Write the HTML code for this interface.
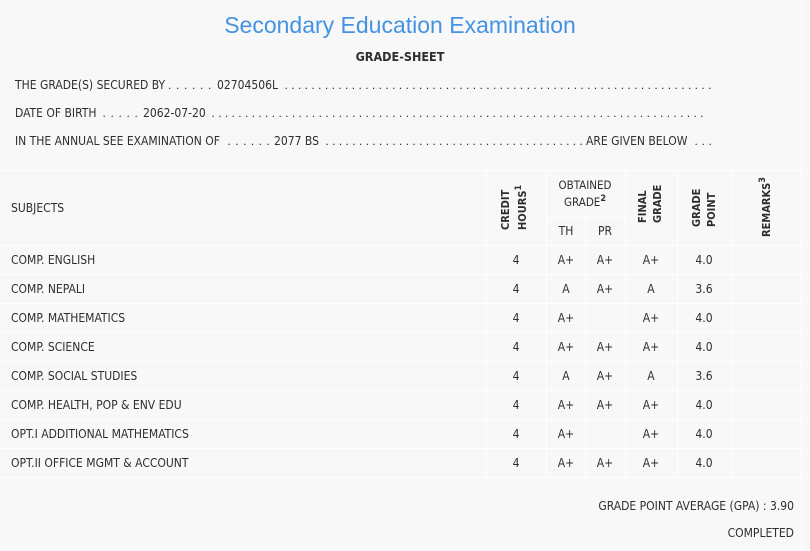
<!DOCTYPE html>
<html>
<head>
<meta charset="utf-8">
<style>
  html,body{margin:0;padding:0;}
  body{width:810px;height:551px;background:#f8f8f8;position:relative;overflow:hidden;
       font-family:"DejaVu Sans Condensed","DejaVu Sans","Liberation Sans",sans-serif;font-stretch:condensed;color:#2e2e2e;}
  .t{position:absolute;white-space:nowrap;font-size:12px;line-height:16px;height:16px;}
  .c{text-align:center;width:60px;}
  .d{position:absolute;white-space:nowrap;font-family:"Liberation Sans",sans-serif;font-size:12px;line-height:16px;height:16px;color:#2e2e2e;}
  .hl{position:absolute;height:1px;background:#fff;}
  .vl{position:absolute;width:1px;background:#fff;}
  .r{position:absolute;white-space:nowrap;font-size:11px;font-weight:bold;line-height:14px;height:14px;width:60px;text-align:left;transform:rotate(-90deg);}
  .r sup,.t sup{font-size:9px;line-height:0;vertical-align:5px;font-weight:bold;}
</style>
</head>
<body>
<!-- table lines -->
<div class="hl" style="left:0;top:170px;width:801px"></div>
<div class="hl" style="left:546px;top:217px;width:79px"></div>
<div class="hl" style="left:0;top:245px;width:801px"></div>
<div class="hl" style="left:0;top:274px;width:801px"></div>
<div class="hl" style="left:0;top:303px;width:801px"></div>
<div class="hl" style="left:0;top:332px;width:801px"></div>
<div class="hl" style="left:0;top:361px;width:801px"></div>
<div class="hl" style="left:0;top:390px;width:801px"></div>
<div class="hl" style="left:0;top:419px;width:801px"></div>
<div class="hl" style="left:0;top:448px;width:801px"></div>
<div class="hl" style="left:0;top:477px;width:801px"></div>
<div class="vl" style="left:486px;top:170px;height:308px"></div>
<div class="vl" style="left:546px;top:170px;height:308px"></div>
<div class="vl" style="left:585px;top:217px;height:261px"></div>
<div class="vl" style="left:625px;top:170px;height:308px"></div>
<div class="vl" style="left:677px;top:170px;height:308px"></div>
<div class="vl" style="left:731px;top:170px;height:308px"></div>
<div class="vl" style="left:801px;top:0;height:551px"></div>

<!-- title -->
<div style="position:absolute;left:0;width:800px;top:11px;text-align:center;font-family:'Liberation Sans',sans-serif;font-size:23px;line-height:28px;color:#4393e2;white-space:nowrap;">Secondary Education Examination</div>
<div class="t" style="left:0;width:800px;top:49px;text-align:center;font-weight:bold;font-size:12.5px;">GRADE-SHEET</div>

<!-- info line 1 -->
<div class="t" style="left:15px;top:77px">THE GRADE(S) SECURED BY</div>
<div class="d" style="left:168px;top:77px;letter-spacing:4.66px">......</div>
<div class="t" style="left:217px;top:77px">02704506L</div>
<div class="d" style="left:284.5px;top:77px;letter-spacing:3.39px">................................................................</div>

<!-- info line 2 -->
<div class="t" style="left:15px;top:105px">DATE OF BIRTH</div>
<div class="d" style="left:102.5px;top:105px;letter-spacing:4.66px">.....</div>
<div class="t" style="left:143px;top:105px">2062-07-20</div>
<div class="d" style="left:211.5px;top:105px;letter-spacing:3.36px">..........................................................................</div>

<!-- info line 3 -->
<div class="t" style="left:15px;top:133px">IN THE ANNUAL SEE EXAMINATION OF</div>
<div class="d" style="left:227.5px;top:133px;letter-spacing:4.46px">......</div>
<div class="t" style="left:274px;top:133px">2077 BS</div>
<div class="d" style="left:325.5px;top:133px;letter-spacing:3.35px">.......................................</div>
<div class="t" style="left:586px;top:133px">ARE GIVEN BELOW</div>
<div class="d" style="left:694.5px;top:133px;letter-spacing:3.66px">...</div>

<!-- header -->
<div class="t" style="left:11px;top:200px">SUBJECTS</div>
<div class="r" style="left:476px;top:193px">CREDIT</div>
<div class="r" style="left:493px;top:193px">HOURS<sup>1</sup></div>
<div class="t c" style="left:555px;top:177px;font-size:11.5px">OBTAINED</div>
<div class="t c" style="left:555px;top:194px;font-size:11.5px">GRADE<sup>2</sup></div>
<div class="t c" style="left:536px;top:223px">TH</div>
<div class="t c" style="left:575px;top:223px">PR</div>
<div class="r" style="left:613px;top:186px">FINAL</div>
<div class="r" style="left:628px;top:186px">GRADE</div>
<div class="r" style="left:667px;top:190px">GRADE</div>
<div class="r" style="left:682px;top:190px">POINT</div>
<div class="r" style="left:737px;top:200px">REMARKS<sup>3</sup></div>

<!-- rows -->
<div class="t" style="left:11px;top:252px">COMP. ENGLISH</div>
<div class="t c" style="left:486px;top:252px">4</div>
<div class="t c" style="left:536px;top:252px">A+</div>
<div class="t c" style="left:575px;top:252px">A+</div>
<div class="t c" style="left:621px;top:252px">A+</div>
<div class="t c" style="left:674px;top:252px">4.0</div>

<div class="t" style="left:11px;top:281px">COMP. NEPALI</div>
<div class="t c" style="left:486px;top:281px">4</div>
<div class="t c" style="left:536px;top:281px">A</div>
<div class="t c" style="left:575px;top:281px">A+</div>
<div class="t c" style="left:621px;top:281px">A</div>
<div class="t c" style="left:674px;top:281px">3.6</div>

<div class="t" style="left:11px;top:310px">COMP. MATHEMATICS</div>
<div class="t c" style="left:486px;top:310px">4</div>
<div class="t c" style="left:536px;top:310px">A+</div>
<div class="t c" style="left:621px;top:310px">A+</div>
<div class="t c" style="left:674px;top:310px">4.0</div>

<div class="t" style="left:11px;top:339px">COMP. SCIENCE</div>
<div class="t c" style="left:486px;top:339px">4</div>
<div class="t c" style="left:536px;top:339px">A+</div>
<div class="t c" style="left:575px;top:339px">A+</div>
<div class="t c" style="left:621px;top:339px">A+</div>
<div class="t c" style="left:674px;top:339px">4.0</div>

<div class="t" style="left:11px;top:368px">COMP. SOCIAL STUDIES</div>
<div class="t c" style="left:486px;top:368px">4</div>
<div class="t c" style="left:536px;top:368px">A</div>
<div class="t c" style="left:575px;top:368px">A+</div>
<div class="t c" style="left:621px;top:368px">A</div>
<div class="t c" style="left:674px;top:368px">3.6</div>

<div class="t" style="left:11px;top:397px">COMP. HEALTH, POP &amp; ENV EDU</div>
<div class="t c" style="left:486px;top:397px">4</div>
<div class="t c" style="left:536px;top:397px">A+</div>
<div class="t c" style="left:575px;top:397px">A+</div>
<div class="t c" style="left:621px;top:397px">A+</div>
<div class="t c" style="left:674px;top:397px">4.0</div>

<div class="t" style="left:11px;top:426px">OPT.I ADDITIONAL MATHEMATICS</div>
<div class="t c" style="left:486px;top:426px">4</div>
<div class="t c" style="left:536px;top:426px">A+</div>
<div class="t c" style="left:621px;top:426px">A+</div>
<div class="t c" style="left:674px;top:426px">4.0</div>

<div class="t" style="left:11px;top:455px">OPT.II OFFICE MGMT &amp; ACCOUNT</div>
<div class="t c" style="left:486px;top:455px">4</div>
<div class="t c" style="left:536px;top:455px">A+</div>
<div class="t c" style="left:575px;top:455px">A+</div>
<div class="t c" style="left:621px;top:455px">A+</div>
<div class="t c" style="left:674px;top:455px">4.0</div>

<!-- footer -->
<div class="t" style="right:16px;top:498px;text-align:right">GRADE POINT AVERAGE (GPA) : 3.90</div>
<div class="t" style="right:16px;top:525px;text-align:right">COMPLETED</div>
</body>
</html>
